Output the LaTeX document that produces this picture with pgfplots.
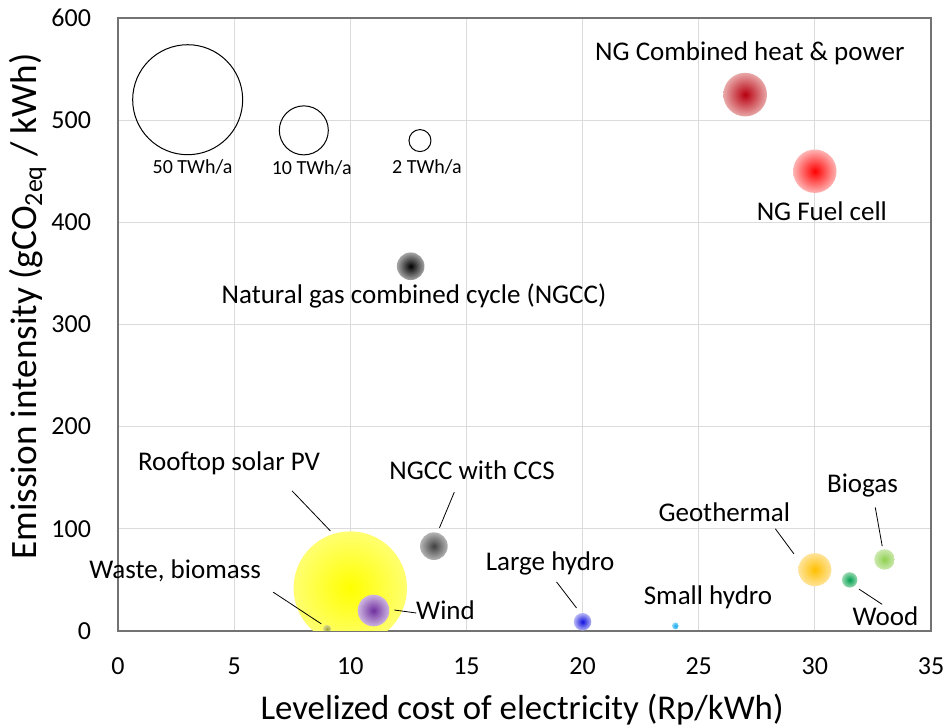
\documentclass[border=0pt]{standalone}
\usepackage{fontspec}
\setmainfont{Carlito}
\usepackage{pgfplots}
\pgfplotsset{compat=1.18}

% radial "glow" marks: #1 name, #2 centre colour, #3 rim colour
\newcommand\glowmark[3]{%
  \definecolor{#1in}{HTML}{#2}\definecolor{#1out}{HTML}{#3}%
  \pgfdeclareradialshading{sh#1}{\pgfpointorigin}{color(0bp)=(#1in); color(25bp)=(#1out); color(50bp)=(#1out)}%
  \pgfdeclareplotmark{#1}{\pgfpathcircle{\pgfpointorigin}{\pgfplotmarksize}\pgfshadepath{sh#1}{0}\pgfusepath{discard}}}

\glowmark{chp}{B80010}{E8A8A8}
\glowmark{fuel}{FF0000}{FFB4B4}
\glowmark{ngcc}{000000}{A6A6A6}
\glowmark{ccs}{404040}{B4B4B4}
\glowmark{solar}{FFFF00}{FFFF70}
\glowmark{wind}{7030A0}{CDB5E0}
\glowmark{waste}{A0A030}{D8D890}
\glowmark{lhydro}{1010E0}{B8B8F5}
\glowmark{shydro}{10A8F0}{90D8F8}
\glowmark{geo}{FFC000}{FFE39A}
\glowmark{wood}{00A050}{98D8B0}
\glowmark{biogas}{90D050}{CCE9B0}

\newcommand\lab{\fontsize{13.5}{16}\selectfont}
\newcommand\key{\fontsize{10}{12}\selectfont}

\begin{document}
\begin{tikzpicture}
\begin{axis}[
    width=406.5pt, height=306.5pt, scale only axis,
    xmin=0, xmax=35, ymin=0, ymax=600,
    xtick={0,5,...,35}, ytick={0,100,...,600},
    grid=major,
    major grid style={draw=gray!28, line width=0.6pt},
    axis line style={draw=gray!90!black, line width=0.7pt},
    major tick length=0pt,
    tick label style={font=\fontsize{13}{15}\selectfont},
    /pgf/number format/assume math mode=true,
    xticklabel style={yshift=-10pt},
    yticklabel style={xshift=-10pt},
    xlabel={\fontsize{17.4}{20}\selectfont Levelized cost of electricity (Rp/kWh)},
    ylabel={\fontsize{18.6}{21}\selectfont Emission intensity (gCO\textsubscript{2eq} / kWh)},
    every axis x label/.style={at={(axis description cs:0.497,-0.1289)}, anchor=center},
    every axis y label/.style={at={(axis description cs:-0.1107,0.5294)}, rotate=90, anchor=center},
    clip mode=individual,
    clip marker paths=true,
]
\coordinate (sw) at (rel axis cs:0,0);
\coordinate (ne) at (rel axis cs:1,1);

% size key
\addplot[only marks, mark=o, mark size=27.5pt, black, line width=0.5pt] coordinates {(3,520)};
\addplot[only marks, mark=o, mark size=12.25pt, black, line width=0.5pt] coordinates {(8,490)};
\addplot[only marks, mark=o, mark size=5.5pt, black, line width=0.5pt] coordinates {(13,480)};

% technologies
\addplot[only marks, mark=solar, mark size=28.35pt] coordinates {(10,42)};
\addplot[only marks, mark=chp, mark size=10.9pt] coordinates {(27,525)};
\addplot[only marks, mark=fuel, mark size=10.85pt] coordinates {(30,450)};
\addplot[only marks, mark=ngcc, mark size=6.9pt] coordinates {(12.6,357)};
\addplot[only marks, mark=ccs, mark size=6.9pt] coordinates {(13.6,83)};
\addplot[only marks, mark=wind, mark size=7.9pt] coordinates {(11,20)};
\addplot[only marks, mark=waste, mark size=2pt] coordinates {(9,2)};
\addplot[only marks, mark=lhydro, mark size=4.4pt] coordinates {(20,9)};
\addplot[only marks, mark=shydro, mark size=1.75pt] coordinates {(24,5)};
\addplot[only marks, mark=geo, mark size=8.25pt] coordinates {(30,60)};
\addplot[only marks, mark=wood, mark size=3.85pt] coordinates {(31.5,50)};
\addplot[only marks, mark=biogas, mark size=5.15pt] coordinates {(33,70)};

% key labels
\node at (axis cs:3.21,454) {\key 50 TWh/a};
\node at (axis cs:8.34,453) {\key 10 TWh/a};
\node at (axis cs:13.3,454) {\key 2 TWh/a};

% labels
\node at (axis cs:27.2,565) {\lab NG Combined heat \& power};
\node at (axis cs:30.3,411) {\lab NG Fuel cell};
\node at (axis cs:12.74,328) {\lab Natural gas combined cycle (NGCC)};
\node at (axis cs:4.78,164) {\lab Rooftop solar PV};
\node at (axis cs:15.24,157) {\lab NGCC with CCS};
\node at (axis cs:2.46,59) {\lab Waste, biomass};
\node at (axis cs:14.1,20.5) {\lab Wind};
\node at (axis cs:18.6,66.5) {\lab Large hydro};
\node at (axis cs:25.4,33) {\lab Small hydro};
\node at (axis cs:26.1,116.5) {\lab Geothermal};
\node at (axis cs:32.05,142) {\lab Biogas};
\node at (axis cs:33.04,14) {\lab Wood};

% leader lines
\draw[line width=0.4pt] (axis cs:7.5,137) -- (axis cs:9.14,98);
\draw[line width=0.4pt] (axis cs:6.68,38) -- (axis cs:8.75,7);
\draw[line width=0.4pt] (axis cs:14.48,136) -- (axis cs:13.84,101);
\draw[line width=0.4pt] (axis cs:11.9,20.5) -- (axis cs:12.84,17.6);
\draw[line width=0.4pt] (axis cs:18.88,48) -- (axis cs:19.74,22.5);
\draw[line width=0.4pt] (axis cs:28.3,100) -- (axis cs:29.1,75.4);
\draw[line width=0.4pt] (axis cs:32.6,121) -- (axis cs:32.9,83);
\draw[line width=0.4pt] (axis cs:31.9,41) -- (axis cs:32.9,26);
\end{axis}
\pgfresetboundingbox
\path[use as bounding box] ([shift={(-59pt,-47.5pt)}]sw) rectangle ([shift={(7.5pt,9pt)}]ne);
\end{tikzpicture}
\end{document}
